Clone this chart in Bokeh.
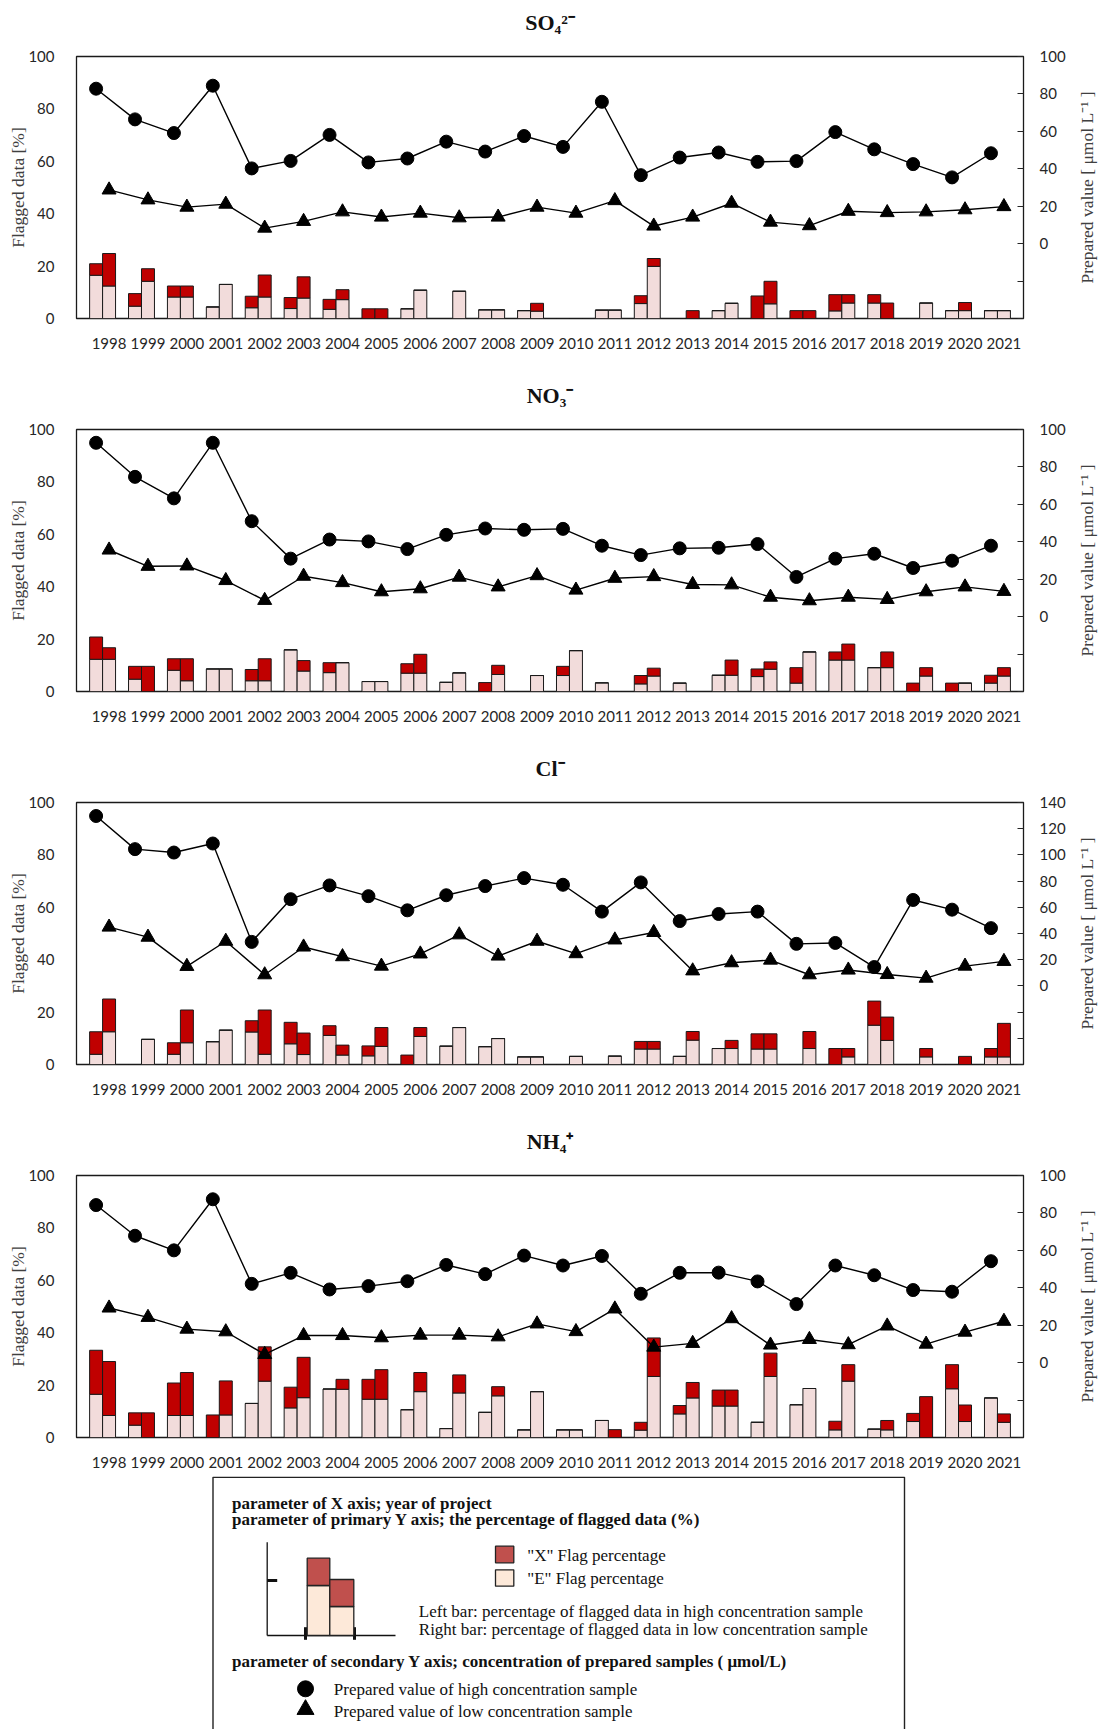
import math
from bokeh.plotting import figure
from bokeh.models import Range1d, LinearAxis, FixedTicker
from bokeh.layouts import column, row
from bokeh.embed import file_html
from bokeh.resources import INLINE
from bokeh.core.properties import value

YEARS = list(range(1998, 2022))

# ---------------- SO4 2- ----------------
SO4_HIGH_E = [16.5, 4.7, 8.2, 4.4, 4.1, 3.8, 3.5, 0, 3.7, 0, 3.3, 3.0, 0, 3.2, 5.7, 0, 3.0, 0, 0, 2.9, 5.9, 0, 3.0, 3.0]
SO4_HIGH_X = [4.4, 4.8, 4.2, 0, 4.4, 4.2, 3.8, 3.7, 0, 0, 0, 0, 0, 0, 3.0, 0, 0, 8.6, 3.0, 6.2, 3.2, 0, 0, 0]
SO4_LOW_E = [12.4, 14.2, 8.2, 13.0, 8.2, 7.8, 7.2, 0, 10.8, 10.4, 3.3, 2.8, 0, 3.2, 19.9, 0, 5.8, 5.6, 0, 5.9, 0, 5.9, 3.0, 3.0]
SO4_LOW_X = [12.4, 4.8, 4.2, 0, 8.4, 8.1, 3.8, 3.7, 0, 0, 0, 3.0, 0, 0, 3.0, 3.0, 0, 8.6, 3.0, 3.2, 5.9, 0, 3.1, 0]
SO4_HIGH_VAL = [82.8, 66.4, 59.1, 84.4, 40.2, 44.2, 58.1, 43.4, 45.5, 54.5, 49.2, 57.5, 51.7, 75.8, 36.6, 46.0, 48.7, 43.7, 44.1, 59.6, 50.4, 42.5, 35.4, 48.3]
SO4_LOW_VAL = [28.7, 23.4, 19.5, 21.1, 8.3, 11.9, 17.0, 14.2, 16.3, 13.8, 14.2, 19.5, 16.3, 23.0, 9.4, 14.2, 21.6, 11.5, 9.6, 17.3, 16.6, 17.0, 18.1, 19.8]

# ---------------- NO3 - ----------------
NO3_HIGH_E = [12.3, 4.7, 8.1, 8.6, 4.1, 15.9, 7.2, 3.8, 7.0, 3.5, 0, 0, 6.1, 3.3, 2.9, 3.2, 6.2, 5.7, 3.2, 12.0, 9.1, 0, 0, 3.2]
NO3_HIGH_X = [8.5, 4.9, 4.4, 0, 4.3, 0, 3.8, 0, 3.6, 0, 3.4, 0, 3.5, 0, 3.2, 0, 0, 2.9, 5.9, 3.1, 0, 3.2, 3.2, 3.0]
NO3_LOW_E = [12.3, 0, 4.1, 8.6, 4.1, 7.8, 11.0, 3.8, 7.0, 7.1, 6.5, 6.1, 15.6, 0, 5.9, 0, 6.2, 8.5, 15.1, 12.0, 9.1, 5.9, 3.2, 5.9]
NO3_LOW_X = [4.4, 9.6, 8.4, 0, 8.4, 4.0, 0, 0, 7.2, 0, 3.5, 0, 0, 0, 3.0, 0, 5.8, 2.8, 0, 6.1, 6.0, 3.2, 0, 3.2]
NO3_HIGH_VAL = [92.9, 74.7, 63.2, 92.9, 51.0, 31.0, 41.2, 40.2, 36.1, 43.7, 47.1, 46.4, 46.9, 37.9, 32.9, 36.5, 36.8, 38.8, 21.2, 31.0, 33.6, 26.0, 29.9, 37.9]
NO3_LOW_VAL = [35.6, 26.9, 27.1, 19.3, 8.7, 21.6, 18.2, 13.3, 14.9, 21.1, 15.9, 21.9, 14.2, 20.5, 21.4, 17.2, 17.0, 10.4, 8.5, 10.4, 9.2, 13.3, 15.9, 13.5]

# ---------------- Cl - ----------------
CL_HIGH_E = [3.9, 0, 3.9, 8.7, 12.4, 7.9, 11.1, 3.3, 0, 7.0, 6.8, 2.9, 0, 0, 5.9, 3.1, 6.1, 5.9, 0, 0, 15.0, 0, 0, 2.9]
CL_HIGH_X = [8.6, 0, 4.4, 0, 4.3, 8.2, 3.7, 3.8, 3.6, 0, 0, 0, 0, 0, 2.9, 0, 0, 5.8, 0, 6.1, 9.2, 0, 0, 3.2]
CL_LOW_E = [12.5, 9.6, 8.3, 13.1, 3.9, 3.8, 3.6, 6.9, 10.7, 14.1, 9.9, 2.9, 3.1, 3.2, 5.9, 9.3, 6.1, 5.9, 6.1, 2.9, 9.2, 2.9, 0, 2.9]
CL_LOW_X = [12.5, 0, 12.5, 0, 16.9, 8.2, 3.8, 7.2, 3.4, 0, 0, 0, 0, 0, 2.9, 3.3, 3.1, 5.8, 6.5, 3.2, 8.9, 3.2, 3.1, 12.8]
CL_HIGH_VAL = [129.7, 104.4, 101.8, 108.7, 33.6, 66.2, 76.7, 68.5, 57.7, 69.2, 76.2, 82.3, 77.2, 56.7, 79.0, 49.5, 54.9, 56.7, 32.1, 32.8, 14.4, 65.6, 58.2, 44.1]
CL_LOW_VAL = [44.9, 37.2, 14.9, 34.1, 8.5, 29.7, 22.3, 15.1, 24.4, 39.0, 22.8, 34.1, 24.6, 35.1, 40.8, 11.5, 17.7, 19.7, 8.5, 12.1, 8.7, 5.9, 15.1, 18.7]

# ---------------- NH4 + ----------------
NH4_HIGH_E = [16.5, 4.7, 8.4, 0, 13.0, 11.3, 18.5, 14.6, 10.6, 3.4, 9.6, 2.9, 2.9, 6.5, 2.8, 9.0, 12.0, 5.8, 12.5, 2.9, 3.2, 6.1, 18.6, 15.1]
NH4_HIGH_X = [16.8, 4.7, 12.4, 8.6, 0, 7.9, 0, 7.6, 0, 0, 0, 0, 0, 0, 3.0, 3.2, 6.1, 0, 0, 3.3, 0, 3.1, 9.2, 0]
NH4_LOW_E = [8.4, 0, 8.4, 8.6, 21.5, 15.2, 18.4, 14.6, 17.5, 17.0, 15.9, 17.5, 2.9, 0, 23.3, 15.1, 12.0, 23.3, 18.7, 21.5, 2.9, 0, 6.1, 5.8]
NH4_LOW_X = [20.6, 9.4, 16.4, 13.0, 13.1, 15.4, 3.8, 11.3, 7.3, 6.9, 3.5, 0, 0, 3.0, 14.7, 5.9, 6.1, 8.9, 0, 6.3, 3.6, 15.6, 6.3, 3.2]
NH4_HIGH_VAL = [84.2, 67.8, 60.0, 87.3, 42.1, 48.0, 39.1, 40.9, 43.5, 52.2, 47.3, 57.2, 51.9, 57.0, 36.8, 48.0, 48.1, 43.4, 31.3, 51.9, 46.7, 38.8, 37.9, 54.2]
NH4_LOW_VAL = [29.2, 24.2, 17.9, 16.5, 4.4, 14.5, 14.5, 13.3, 14.7, 14.7, 13.8, 20.7, 16.6, 28.7, 8.3, 10.3, 23.5, 9.4, 12.4, 9.6, 19.6, 9.9, 16.3, 22.1]

TITLES = ["SO\u2084\u00b2\u207b", "NO\u2083\u207b", "Cl\u207b", "NH\u2084\u207a"]
LEFT_TITLE = "Flagged data [%]"
RIGHT_TITLE = "Prepared value [ \u03bcmol L\u207b\u00b9 ]"

RED = "#C00000"
PINK = "#F2DCDB"
EDGE = "#1a1a1a"
TICK_COLOR = "#262626"
LABEL_COLOR = "#404040"
SERIF = "Liberation Serif"
SANS = "Lato"

X_START, X_END = 1997.163, 2021.503
MAIN_W = 1072           # chart part of every row
SIDE_W = 1102 - MAIN_W  # strip holding the right-hand axis title
TITLE_H = 40            # strip holding each panel title


def blank_figure(width, height, x_range, y_range, left, right, top, bottom):
    f = figure(width=width, height=height, output_backend="svg", toolbar_location=None,
               x_range=x_range, y_range=y_range, x_axis_type=None, y_axis_type=None,
               title_location=None,
               min_border_left=left, min_border_right=right, min_border_top=top,
               min_border_bottom=bottom)
    f.outline_line_color = None
    f.background_fill_color = "white"
    f.border_fill_color = "white"
    return f


def title_strip(title):
    t = blank_figure(1102, TITLE_H, Range1d(76, 1023), Range1d(TITLE_H, 0), 76, 79, 0, 0)
    t.text(x=[549.5], y=[22.3], text=[title], text_align="center", text_baseline="middle",
           text_font=value(SERIF), text_font_size=value("22px"), text_font_style=value("bold"),
           text_color="#111111")
    return t


def panel(title, hiE, hiX, loE, loX, hiV, loV, sec_lo, sec_hi, height, bottom_border):
    h = height - TITLE_H
    top_border = 56 - TITLE_H
    p = figure(width=MAIN_W, height=h, output_backend="svg", toolbar_location=None,
               x_range=Range1d(X_START, X_END), y_range=Range1d(0, 100),
               x_axis_type=None, y_axis_type=None, title_location=None,
               min_border_left=76, min_border_right=MAIN_W - 1023, min_border_top=top_border,
               min_border_bottom=bottom_border)
    p.extra_y_ranges = {"sec": Range1d(sec_lo, sec_hi)}
    p.outline_line_color = EDGE
    p.outline_line_width = 1.3
    p.outline_line_alpha = 1.0
    p.background_fill_color = "white"
    p.border_fill_color = "white"

    xa = LinearAxis(ticker=FixedTicker(ticks=YEARS))
    xa.axis_line_color = None
    xa.major_tick_line_color = None
    xa.minor_tick_line_color = None
    xa.major_label_standoff = 13
    xa.major_label_text_font = SANS
    xa.major_label_text_font_size = "15px"
    xa.major_label_text_color = TICK_COLOR
    p.add_layout(xa, "below")

    ya = LinearAxis(ticker=FixedTicker(ticks=[0, 20, 40, 60, 80, 100]), axis_label=LEFT_TITLE)
    ya.axis_line_color = None
    ya.major_tick_line_color = None
    ya.minor_tick_line_color = None
    ya.major_label_standoff = 16
    ya.major_label_text_font = SANS
    ya.major_label_text_font_size = "15px"
    ya.major_label_text_color = TICK_COLOR
    ya.axis_label_text_font = SERIF
    ya.axis_label_text_font_size = "17.5px"
    ya.axis_label_text_font_style = "normal"
    ya.axis_label_text_color = LABEL_COLOR
    ya.axis_label_standoff = -3
    p.add_layout(ya, "left")

    sec_ticks = list(range(sec_lo, sec_hi + 1, 20))
    ra = LinearAxis(y_range_name="sec", ticker=FixedTicker(ticks=sec_ticks),
                    major_label_overrides={t: "" for t in sec_ticks if t < 0})
    ra.axis_line_color = None
    ra.major_tick_in = 6
    ra.major_tick_out = 0
    ra.major_tick_line_color = TICK_COLOR
    ra.minor_tick_line_color = None
    ra.major_label_standoff = 16
    ra.major_label_text_font = SANS
    ra.major_label_text_font_size = "15px"
    ra.major_label_text_color = TICK_COLOR
    p.add_layout(ra, "right")

    x_left = [y - 1.0 / 3.0 for y in YEARS]
    x_right = list(YEARS)
    hi_tot = [a + b for a, b in zip(hiE, hiX)]
    lo_tot = [a + b for a, b in zip(loE, loX)]
    w = 1.0 / 3.0
    p.vbar(x=x_left, width=w, bottom=0, top=hiE, fill_color=PINK, line_color=EDGE, line_width=1)
    p.vbar(x=x_left, width=w, bottom=hiE, top=hi_tot, fill_color=RED, line_color=EDGE, line_width=1)
    p.vbar(x=x_right, width=w, bottom=0, top=loE, fill_color=PINK, line_color=EDGE, line_width=1)
    p.vbar(x=x_right, width=w, bottom=loE, top=lo_tot, fill_color=RED, line_color=EDGE, line_width=1)

    p.line(x=x_left, y=hiV, y_range_name="sec", line_color="black", line_width=1.4)
    p.scatter(x=x_left, y=hiV, y_range_name="sec", marker="circle", size=13,
              fill_color="black", line_color="black")
    p.line(x=x_right, y=loV, y_range_name="sec", line_color="black", line_width=1.4)
    p.scatter(x=x_right, y=loV, y_range_name="sec", marker="triangle", size=14,
              fill_color="black", line_color="black")

    # narrow strip on the right carrying the secondary-axis title (reads bottom to top)
    s = blank_figure(SIDE_W, h, Range1d(0, SIDE_W), Range1d(0, 100), 0, 0, top_border, bottom_border)
    s.text(x=[1086.4 - MAIN_W], y=[50], text=[RIGHT_TITLE], angle=math.pi / 2,
           text_align="center", text_baseline="middle", text_font=value(SERIF),
           text_font_size=value("17.5px"), text_color=LABEL_COLOR)
    return column(title_strip(title), row(p, s, spacing=0), spacing=0)


r1 = panel(TITLES[0], SO4_HIGH_E, SO4_HIGH_X, SO4_LOW_E, SO4_LOW_X, SO4_HIGH_VAL, SO4_LOW_VAL, -40, 100, 373, 55)
r2 = panel(TITLES[1], NO3_HIGH_E, NO3_HIGH_X, NO3_LOW_E, NO3_LOW_X, NO3_HIGH_VAL, NO3_LOW_VAL, -40, 100, 373, 55)
r3 = panel(TITLES[2], CL_HIGH_E, CL_HIGH_X, CL_LOW_E, CL_LOW_X, CL_HIGH_VAL, CL_LOW_VAL, -60, 140, 373, 55)
r4 = panel(TITLES[3], NH4_HIGH_E, NH4_HIGH_X, NH4_LOW_E, NH4_LOW_X, NH4_HIGH_VAL, NH4_LOW_VAL, -40, 100, 357, 39)

# ---------------- explanatory legend box ----------------
LEG_RED = "#C0504D"
LEG_PEACH = "#FDE9D9"
LEG_HEADINGS = ["parameter of X axis; year of project",
                "parameter of primary Y axis; the percentage of flagged data (%)",
                "parameter of secondary Y axis; concentration of prepared samples ( \u03bcmol/L)"]
LEG_FLAGS = ["\"X\" Flag percentage", "\"E\" Flag percentage"]
LEG_BARS = ["Left bar: percentage of flagged data in high concentration sample",
            "Right bar: percentage of flagged data in low concentration sample"]
LEG_MARKERS = ["Prepared value of high concentration sample",
               "Prepared value of low concentration sample"]

# the legend canvas uses page pixels: x across the frame, y downward from its top
leg = blank_figure(1102, 253, Range1d(76, 1023), Range1d(253, 0), 76, 79, 0, 0)

leg.quad(left=212.5, right=904, top=0.8, bottom=270, fill_color=None, line_color="#222222", line_width=1.4)

bold_font = dict(text_font=value(SERIF), text_font_size=value("17px"), text_font_style=value("bold"),
                 text_color="#111111", text_baseline="middle", text_align="left")
reg_font = dict(text_font=value(SERIF), text_font_size=value("17px"), text_font_style=value("normal"),
                text_color="#111111", text_baseline="middle", text_align="left")

leg.text(x=[231.5, 231.5, 231.5], y=[26.6, 43.3, 185.0], text=LEG_HEADINGS, **bold_font)

# schematic axes
leg.segment(x0=[266.7, 266.7], y0=[65.7, 159], x1=[266.7, 395], y1=[159, 159], line_color="#111111", line_width=1.3)
leg.segment(x0=[266.7], y0=[104], x1=[276.7], y1=[104], line_color="#111111", line_width=3)
leg.segment(x0=[305, 354], y0=[150.7, 150.7], x1=[305, 354], y1=[163.3, 163.3], line_color="#111111", line_width=3)
# schematic bars
leg.quad(left=[306.7, 329.3], right=[329.3, 353.3], top=[109, 130], bottom=[159, 159],
         fill_color=LEG_PEACH, line_color="#222222", line_width=1.3)
leg.quad(left=[306.7, 329.3], right=[329.3, 353.3], top=[81.7, 103], bottom=[109, 130],
         fill_color=LEG_RED, line_color="#222222", line_width=1.3)
# legend squares
leg.quad(left=[495, 495], right=[513.3, 513.3], top=[69.7, 93.3], bottom=[86.3, 109.7],
         fill_color=[LEG_RED, LEG_PEACH], line_color="#222222", line_width=1.3)
leg.text(x=[526.7, 526.7], y=[79.3, 101.6], text=LEG_FLAGS, **reg_font)
leg.text(x=[418.3, 418.3], y=[135.0, 153.3], text=LEG_BARS, **reg_font)
# marker legend
leg.scatter(x=[305], y=[212.3], marker="circle", size=16, fill_color="black", line_color="black")
leg.scatter(x=[305], y=[233], marker="triangle", size=17, fill_color="black", line_color="black")
leg.text(x=[333.3, 333.3], y=[213.3, 235.0], text=LEG_MARKERS, **reg_font)

layout = column(r1, r2, r3, r4, leg, spacing=0)

open("out.html", "w").write(file_html(layout, INLINE))
